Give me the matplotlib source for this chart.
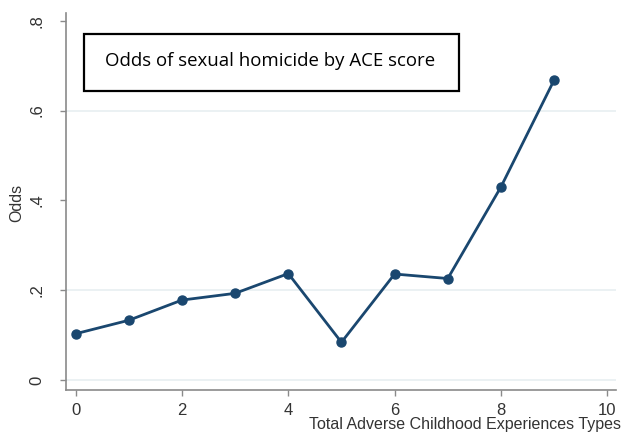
import matplotlib
matplotlib.use("Agg")
import matplotlib.pyplot as plt
from matplotlib.patches import Rectangle

# ACE score vs odds of sexual homicide
ace_scores = [0, 1, 2, 3, 4, 5, 6, 7, 8, 9]
odds = [0.103, 0.133, 0.178, 0.193, 0.237, 0.084, 0.236, 0.226, 0.43, 0.668]

x_ticks = [0, 2, 4, 6, 8, 10]
y_ticks = [0, 0.2, 0.4, 0.6, 0.8]
y_tick_labels = ["0", ".2", ".4", ".6", ".8"]
grid_levels = [0, 0.2, 0.6]

navy = "#1a476f"
axis_gray = "#8a8a8a"

plt.rcParams["font.family"] = ["Liberation Sans", "DejaVu Sans"]

fig = plt.figure(figsize=(6.25, 4.32), dpi=100)
ax = fig.add_axes([0.105, 0.0972, 0.8806, 0.8734])

for g in grid_levels:
    ax.axhline(g, color="#e8eff1", linewidth=1.2, zorder=0)

ax.plot(ace_scores, odds, color=navy, linewidth=2, marker="o",
        markersize=6.5, zorder=3)

ax.set_xlim(-0.188, 10.164)
ax.set_ylim(-0.0223, 0.818)
ax.set_xticks(x_ticks)
ax.set_yticks(y_ticks)
ax.set_yticklabels(y_tick_labels, rotation=90, va="center")

for side in ["top", "right"]:
    ax.spines[side].set_visible(False)
for side in ["left", "bottom"]:
    ax.spines[side].set_color(axis_gray)
    ax.spines[side].set_linewidth(1.2)

ax.tick_params(axis="x", length=4, width=1, color=axis_gray, pad=5,
               labelsize=12, labelcolor="#333333")
ax.tick_params(axis="y", length=4, width=1, color=axis_gray, pad=11,
               labelsize=12, labelcolor="#333333")

fig.text(621 / 625, 1 - 424 / 432, "Total Adverse Childhood Experiences Types",
         ha="right", va="center", fontsize=11.5, color="#333333")
fig.text(17 / 625, 1 - 203 / 432, "Odds", rotation=90, ha="center",
         va="center", fontsize=11.5, color="#333333")

# title box drawn inside the plot area
box = Rectangle((84 / 625, 1 - 90.7 / 432), (459 - 84) / 625, (90.7 - 34) / 432,
                transform=fig.transFigure, fill=True, facecolor="white",
                edgecolor="black", linewidth=1.6, zorder=5)
fig.patches.append(box)
fig.text(105 / 625, 1 - 61 / 432, "Odds of sexual homicide by ACE score",
         ha="left", va="center", fontsize=13.4, color="black", zorder=6,
         family=["Open Sans", "DejaVu Sans"])

fig.savefig("out.png", dpi=100)
